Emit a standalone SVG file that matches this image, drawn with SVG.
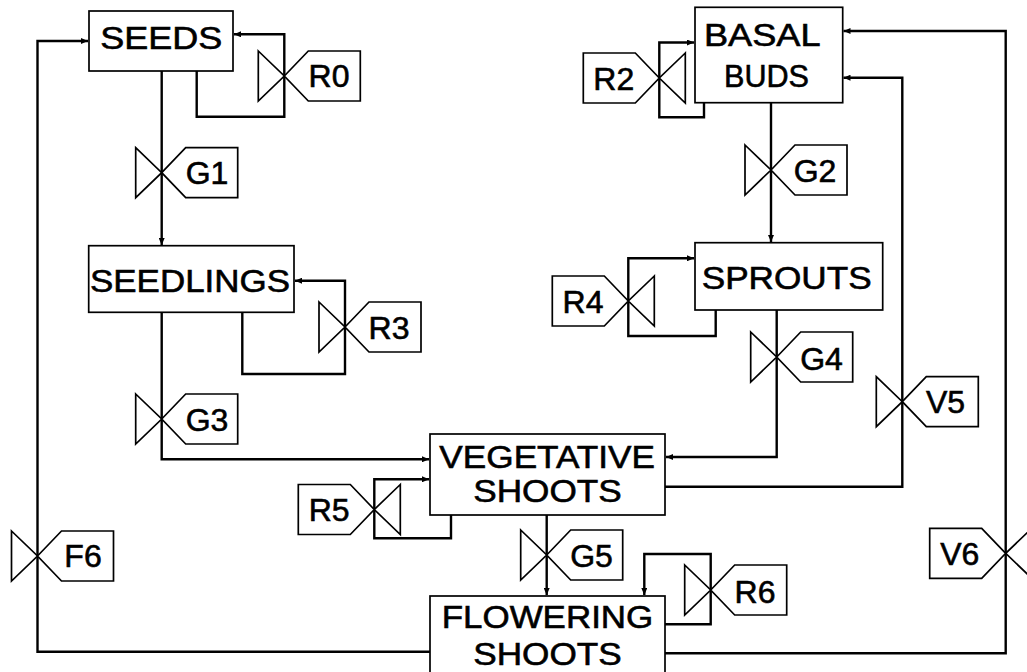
<svg xmlns="http://www.w3.org/2000/svg" xmlns:xlink="http://www.w3.org/1999/xlink" width="1027" height="672" viewBox="0 0 1027 672">
<style>
.box{fill:#fff;stroke:#000;stroke-width:1.7}
.conn{fill:none;stroke:#000;stroke-width:2.4;stroke-linejoin:miter}
.vs{fill:#fff;stroke:#000;stroke-width:1.7;stroke-linejoin:miter}
.t{font-family:"Liberation Sans",Arial,Helvetica,sans-serif;font-size:32px;fill:#000;stroke:#000;stroke-width:0.6;text-anchor:middle}
</style>
<defs>
<marker id="arr" markerUnits="userSpaceOnUse" markerWidth="8" markerHeight="6" refX="7" refY="3" orient="auto">
<path d="M0,0 L7,3 L0,6 Z" fill="#000"/>
</marker>
<g id="valve">
<polygon class="vs" points="-26,-25 0,0 -26,25"/>
<polygon class="vs" points="0,0 24,-25 76,-25 76,25 24,25"/>
</g>
</defs>
<rect width="1027" height="672" fill="#fff"/>

<g id="connectors">
<path class="conn" d="M430,651.7 H37.5 V41 H88" marker-end="url(#arr)"/>
<path class="conn" d="M196.7,71 V116.7 H284.3 V34.3 H234" marker-end="url(#arr)"/>
<path class="conn" d="M161.7,71 V245" marker-end="url(#arr)"/>
<path class="conn" d="M242.3,312.3 V374 H345 V280.7 H295" marker-end="url(#arr)"/>
<path class="conn" d="M161.7,312.3 V459.3 H429" marker-end="url(#arr)"/>
<path class="conn" d="M451,515 V538.3 H374.3 V479.3 H429" marker-end="url(#arr)"/>
<path class="conn" d="M546.7,515 V595" marker-end="url(#arr)"/>
<path class="conn" d="M665,624.3 H710.7 V554 H644.3 V595" marker-end="url(#arr)"/>
<path class="conn" d="M665,653.3 H1005.7 V31 H843.5" marker-end="url(#arr)"/>
<path class="conn" d="M665,486.7 H902.3 V77.7 H843.5" marker-end="url(#arr)"/>
<path class="conn" d="M776.7,310 V457 H666" marker-end="url(#arr)"/>
<path class="conn" d="M771,102.7 V242" marker-end="url(#arr)"/>
<path class="conn" d="M704,102.7 V117.3 H659.3 V42.5 H694" marker-end="url(#arr)"/>
<path class="conn" d="M715.7,310 V336 H628.3 V258.3 H694" marker-end="url(#arr)"/>
</g>

<g id="seeds">
<rect class="box" x="89" y="11" width="144" height="60"/>
<text class="t" x="161.3" y="48.5" textLength="122" lengthAdjust="spacingAndGlyphs">SEEDS</text>
</g>
<g id="seedlings">
<rect class="box" x="88.7" y="245.7" width="205.3" height="66.6"/>
<text class="t" x="190" y="291.7" textLength="200" lengthAdjust="spacingAndGlyphs">SEEDLINGS</text>
</g>
<g id="basal-buds">
<rect class="box" x="695" y="7.3" width="147.7" height="95.4"/>
<text class="t" x="762.3" y="45.7" textLength="116.7" lengthAdjust="spacingAndGlyphs">BASAL</text>
<text class="t" x="766.5" y="87.3" textLength="85" lengthAdjust="spacingAndGlyphs">BUDS</text>
</g>
<g id="sprouts">
<rect class="box" x="695" y="242.7" width="187.7" height="67.3"/>
<text class="t" x="786.7" y="289.3" textLength="170" lengthAdjust="spacingAndGlyphs">SPROUTS</text>
</g>
<g id="vegetative-shoots">
<rect class="box" x="430" y="434" width="235" height="81"/>
<text class="t" x="547.2" y="468" textLength="215.7" lengthAdjust="spacingAndGlyphs">VEGETATIVE</text>
<text class="t" x="547.5" y="501.5" textLength="148.4" lengthAdjust="spacingAndGlyphs">SHOOTS</text>
</g>
<g id="flowering-shoots">
<rect class="box" x="430" y="596" width="235" height="86"/>
<text class="t" x="547.5" y="627.5" textLength="211.6" lengthAdjust="spacingAndGlyphs">FLOWERING</text>
<text class="t" x="547.5" y="665" textLength="148.4" lengthAdjust="spacingAndGlyphs">SHOOTS</text>
</g>

<g id="valve-R0"><use xlink:href="#valve" href="#valve" transform="translate(284.3,76)"/><text class="t" x="329" y="87">R0</text></g>
<g id="valve-G1"><use xlink:href="#valve" href="#valve" transform="translate(161.7,172.7)"/><text class="t" x="207" y="184">G1</text></g>
<g id="valve-R3"><use xlink:href="#valve" href="#valve" transform="translate(345,327)"/><text class="t" x="389" y="338.5">R3</text></g>
<g id="valve-G3"><use xlink:href="#valve" href="#valve" transform="translate(161.7,419)"/><text class="t" x="207" y="431">G3</text></g>
<g id="valve-F6"><use xlink:href="#valve" href="#valve" transform="translate(37.5,556)"/><text class="t" x="83" y="567">F6</text></g>
<g id="valve-R5"><use xlink:href="#valve" href="#valve" transform="translate(374.3,509.5) scale(-1,1)"/><text class="t" x="329.2" y="521">R5</text></g>
<g id="valve-G5"><use xlink:href="#valve" href="#valve" transform="translate(546.7,555)"/><text class="t" x="591.5" y="567">G5</text></g>
<g id="valve-R6"><use xlink:href="#valve" href="#valve" transform="translate(710.7,590)"/><text class="t" x="755" y="602.5">R6</text></g>
<g id="valve-V6"><use xlink:href="#valve" href="#valve" transform="translate(1005.7,553.3) scale(-1,1)"/><text class="t" x="959.8" y="564.5">V6</text></g>
<g id="valve-V5"><use xlink:href="#valve" href="#valve" transform="translate(902.3,401.7)"/><text class="t" x="945.5" y="413">V5</text></g>
<g id="valve-G4"><use xlink:href="#valve" href="#valve" transform="translate(776.7,357)"/><text class="t" x="821.5" y="370">G4</text></g>
<g id="valve-G2"><use xlink:href="#valve" href="#valve" transform="translate(771,170)"/><text class="t" x="815" y="182">G2</text></g>
<g id="valve-R2"><use xlink:href="#valve" href="#valve" transform="translate(659.3,78) scale(-1,1)"/><text class="t" x="613.8" y="90">R2</text></g>
<g id="valve-R4"><use xlink:href="#valve" href="#valve" transform="translate(628.3,301) scale(-1,1)"/><text class="t" x="583" y="312.5">R4</text></g>
</svg>
